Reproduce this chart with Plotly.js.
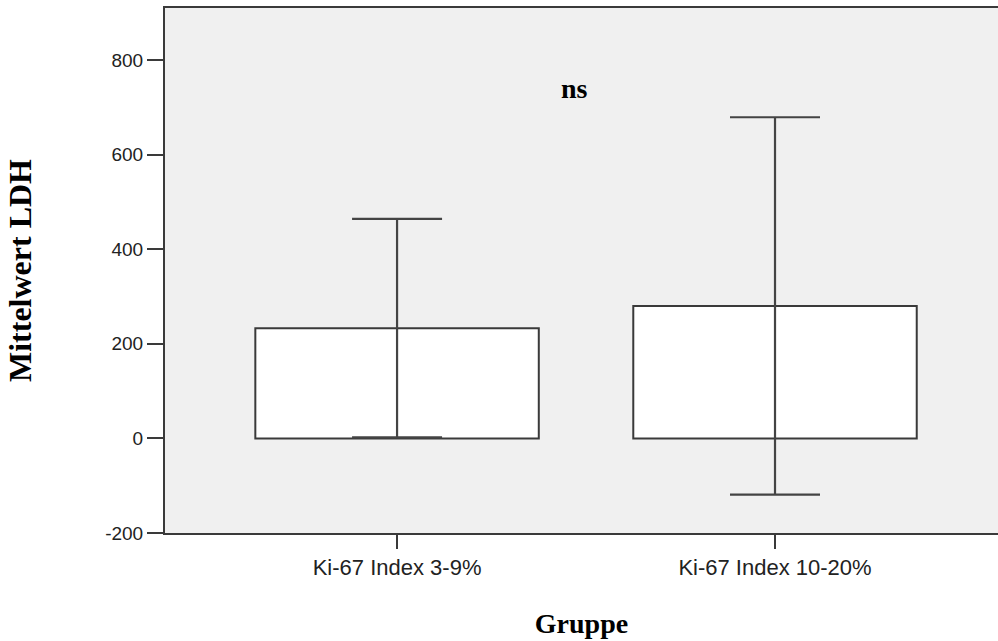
<!DOCTYPE html>
<html>
<head>
<meta charset="utf-8">
<script src="https://cdn.plot.ly/plotly-3.0.1.min.js"></script>
<style>
  html, body { margin: 0; padding: 0; background: #ffffff; }
  #chart { width: 998px; height: 641px; }
</style>
</head>
<body>
<div id="chart"></div>
<script>
// Group labels and mean LDH per group, with the error-bar half width
const groups = ['Ki-67 Index 3-9%', 'Ki-67 Index 10-20%'];
const meanLDH = [233, 280];
const errLDH = [231, 399];
const yTicks = [-200, 0, 200, 400, 600, 800];
const annotationText = 'ns';

const lineColor = '#3a3a3a';

const trace = {
  type: 'bar',
  x: [0, 1],
  y: meanLDH,
  width: 0.75,
  marker: { color: '#ffffff', line: { color: lineColor, width: 2 } },
  error_y: { type: 'data', array: errLDH, visible: true, color: '#444444', thickness: 2.2, width: 45 },
  hoverinfo: 'skip'
};

const layout = {
  width: 998,
  height: 641,
  margin: { l: 165, r: 0, t: 8, b: 108 },
  paper_bgcolor: '#ffffff',
  plot_bgcolor: '#f0f0f0',
  showlegend: false,
  bargap: 0,
  xaxis: {
    range: [-0.614, 1.59],
    tickvals: [0, 1],
    ticktext: groups,
    ticks: 'outside',
    ticklen: 14,
    tickwidth: 2,
    tickcolor: lineColor,
    showline: true,
    linecolor: lineColor,
    linewidth: 2,
    mirror: true,
    showgrid: false,
    zeroline: false,
    tickfont: { family: 'Liberation Sans, Arial, sans-serif', size: 22, color: '#222222' },
    title: { text: '<b>Gruppe</b>', standoff: 34, font: { family: 'Liberation Serif, Times New Roman, serif', size: 28, color: '#000000' } }
  },
  yaxis: {
    range: [-200, 910],
    tickvals: yTicks,
    ticktext: yTicks.map(String),
    ticks: 'outside',
    ticklen: 16,
    tickwidth: 2,
    tickcolor: lineColor,
    showline: true,
    linecolor: lineColor,
    linewidth: 2,
    showgrid: false,
    zeroline: false,
    tickfont: { family: 'Liberation Sans, Arial, sans-serif', size: 19, color: '#222222' },
    title: { text: '<b>Mittelwert LDH</b>', standoff: 64, font: { family: 'Liberation Serif, Times New Roman, serif', size: 32, color: '#000000' } }
  },
  annotations: [{
    xref: 'x', yref: 'y',
    x: 0.47, y: 740,
    text: '<b>' + annotationText + '</b>',
    showarrow: false,
    font: { family: 'Liberation Serif, Times New Roman, serif', size: 28, color: '#000000' }
  }]
};

Plotly.newPlot('chart', [trace], layout, { displayModeBar: false, staticPlot: true });
</script>
</body>
</html>
